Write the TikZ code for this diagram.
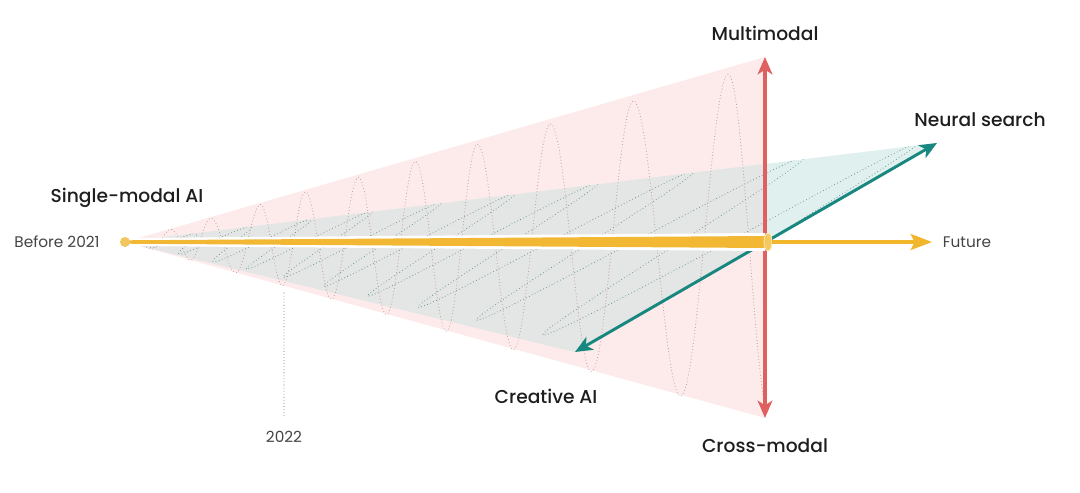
\documentclass[tikz,border=0pt]{standalone}
\usepackage{fontspec}
\setmainfont{Poppins}
\newfontfamily\headfont{Poppins Medium}
\usetikzlibrary{arrows.meta,shapes.geometric}
\definecolor{conepink}{HTML}{FDEAEA}
\definecolor{planeteal}{HTML}{DFF0EF}
\definecolor{planegrey}{HTML}{E3E6E4}
\definecolor{wavepink}{HTML}{C49C9C}
\definecolor{wavetealc}{HTML}{6C9893}
\definecolor{tubeyellow}{HTML}{F2B733}
\definecolor{dotyellow}{HTML}{F3C55E}
\definecolor{endyellow}{HTML}{F6C95F}
\definecolor{arrowyellow}{HTML}{F1B62B}
\definecolor{redc}{HTML}{E06060}
\definecolor{tealc}{HTML}{17877F}
\definecolor{txtdark}{HTML}{1E1E1E}
\definecolor{txtgrey}{HTML}{444444}
\definecolor{markgrey}{HTML}{8A8A8A}
\begin{document}
\begin{tikzpicture}[x=0.75pt,y=-0.75pt,
  head/.style={font=\headfont\fontsize{14}{16}\selectfont, text=txtdark, inner sep=0pt},
  small/.style={font=\fontsize{11.5}{13}\selectfont, text=txtgrey, inner sep=0pt},
  pinkwave/.style={draw=wavepink, line width=0.8pt, dash pattern=on 0pt off 2.4pt, line cap=round},
  tealwave/.style={draw=wavetealc, line width=0.8pt, dash pattern=on 0pt off 2.4pt, line cap=round},
  markline/.style={draw=markgrey, line width=0.8pt, dash pattern=on 0pt off 2.3pt, line cap=round},
  redarrow/.style={draw=redc, line width=2.5pt, {Stealth[length=13pt,width=11pt,inset=3.5pt]}-{Stealth[length=13pt,width=11pt,inset=3.5pt]}},
  tealarrow/.style={draw=tealc, line width=2.2pt, {Stealth[length=13pt,width=11pt,inset=3.5pt]}-{Stealth[length=13pt,width=11pt,inset=3.5pt]}},
  yarrow/.style={draw=arrowyellow, line width=2.4pt, -{Stealth[length=16pt,width=12pt,inset=3pt]}},
]
\useasboundingbox (0,0) rectangle (1080,492);
\coordinate (apex) at (125,242);
\coordinate (mtop) at (765,57);
\coordinate (mbot) at (765,418);
\coordinate (ntip) at (937,143);
\coordinate (ctip) at (575,352);
\coordinate (ftip) at (932,242);
\coordinate (m2022) at (284,293);

% cone and plane
\fill[conepink] (apex) -- (mtop) -- (mbot) -- cycle;
\fill[planeteal] (apex) -- (ntip) -- (ctip) -- cycle;
\begin{scope}
  \clip (apex) -- (mtop) -- (mbot) -- cycle;
  \fill[planegrey] (apex) -- (ntip) -- (ctip) -- cycle;
\end{scope}

% vertical (pink) wave
\begin{scope}
  \clip (0,0) rectangle (764,492);
  \draw[pinkwave] (126,242) \foreach \a/\b/\i in {126/150/0,150/170/1,170/190/2,190/210/3,210/235/4,235/260/5,260/282/6,282/305/7,305/331/8,331/358/9,358/386/10,386/415/11,415/446/12,446/477/13,477/513/14,513/550/15,550/591/16,591/633/17,633/680/18,680/728/19,728/770/20}
   { -- plot[domain=0:1, samples=22, variable=\s] ({\a+(\b-\a)*\s}, {242-cos(180*(\i+\s))*0.278*(\a+(\b-\a)*\s-125)}) };
\end{scope}

% in-plane (teal) wave
\begin{scope}
  \clip (apex) -- (ntip) -- (ctip) -- cycle;
  \draw[tealwave] (126,242) \foreach \a/\b/\i in {126/150/0,150/170/1,170/190/2,190/210/3,210/235/4,235/260/5,260/282/6,282/305/7,305/331/8,331/358/9,358/386/10,386/415/11,415/446/12,446/477/13,477/513/14,513/550/15,550/591/16,591/633/17,633/680/18,680/728/19,728/765/20}
   { -- plot[domain=0:1, samples=22, variable=\s] ({\a+(\b-\a)*\s + sin(180*(\i+\s))*(\a+(\b-\a)*\s-125)/640*178}, {242-sin(180*(\i+\s))*(\a+(\b-\a)*\s-125)/640*103}) };
\end{scope}

% arrows of the two planes
\draw[tealarrow] (ctip) -- (ntip);
\draw[redarrow] (mbot) -- (mtop);

% yellow time axis
\fill[white] (125,238) -- (765,233) -- (765,251) -- (125,246) -- cycle;
\fill[tubeyellow] (125,240.3) -- (765,236) -- (765,248) -- (125,243.7) -- cycle;
\node[circle, fill=dotyellow, inner sep=0pt, minimum size=7.5pt] (start) at (apex) {};
\node[ellipse, fill=endyellow, draw=white!60!endyellow, line width=0.6pt, inner sep=0pt, minimum width=6pt, minimum height=13.5pt] (tubeend) at (768,242) {};
\draw[yarrow] (tubeend.east) -- (ftip);

% labels
\node[head] (lmulti) at (765,33) {Multimodal};
\node[head] (lneural) at (980,120) {Neural search};
\node[head] (lsingle) at (127,198) {Single-modal AI};
\node[head] (lcreative) at (546,396) {Creative AI};
\node[head] (lcross) at (765,446) {Cross-modal};
\node[small] (lbefore) at (57,242) {Before 2021};
\node[small] (lfuture) at (967,242) {Future};
\node[small] (l2022) at (284,437) {2022};
\draw[markline] (m2022) -- ([yshift=10pt]l2022.north);
\end{tikzpicture}
\end{document}
